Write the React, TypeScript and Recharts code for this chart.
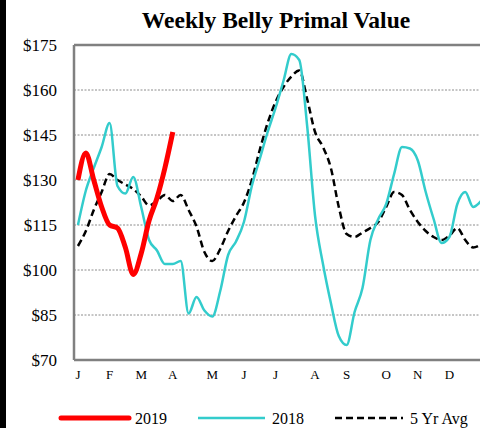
import type { ReactElement } from "react";
import {
  CartesianGrid,
  Line,
  LineChart,
  ReferenceLine,
  XAxis,
  YAxis,
} from "recharts";

const FONT = '"Liberation Serif", "Times New Roman", serif';

// week index (0-51) where each month label sits
const MONTH_WEEKS = [0, 4, 8, 12, 17, 21, 25, 30, 34, 39, 43, 47];
const MONTH_LABELS = ["J", "F", "M", "A", "M", "J", "J", "A", "S", "O", "N", "D"];
const Y_TICKS = [70, 85, 100, 115, 130, 145, 160, 175];

const VALUES_2019 = [130, 139, 130, 121, 115, 114, 107.5, 98.5, 105.5, 116.5, 124, 134, 146];

const VALUES_2018 = [
  115, 126.5, 134, 141, 149, 128, 125.5, 131, 121, 110, 106.5, 102, 102, 103,
  85.5, 91, 86.5, 84.5, 93, 105, 109.5, 116, 128, 137, 146, 154, 163, 172, 170,
  148, 118, 102, 89, 78, 75, 86, 94, 110, 117, 122, 132, 141, 140.5, 136.5, 126,
  117, 109, 111, 122, 126, 121, 123,
];

const VALUES_5YR = [
  108, 113, 120, 126, 132, 130, 128.5, 127, 124.5, 121.5, 123, 125, 123, 125,
  120, 114.5, 106, 103, 107, 113, 118, 122.5, 130, 140, 149, 156, 161, 164.5,
  166.5, 157, 146, 141, 134, 121, 112, 111, 112.5, 114, 116, 121, 126, 125, 120,
  116, 113, 111, 110, 111.5, 114, 110, 107.5, 108.5,
];

const data = VALUES_2018.map((v, i) => ({
  week: i,
  y2019: i < VALUES_2019.length ? VALUES_2019[i] : null,
  y2018: v,
  avg: VALUES_5YR[i],
}));

const RED = "#ff0000";
const TEAL = "#33cccc";
const AXIS = "#808080";

export default function App(): ReactElement {
  return (
    <div
      style={{
        position: "relative",
        width: 480,
        height: 428,
        overflow: "hidden",
        background: "#fff",
        fontFamily: FONT,
      }}
    >
      <style>{"body{margin:0}"}</style>
      <div
        style={{
          position: "absolute",
          left: 76,
          top: 9,
          width: 400,
          textAlign: "center",
          fontSize: 23.5,
          lineHeight: "23px",
          fontWeight: "bold",
          color: "#000",
        }}
      >
        Weekly Belly Primal Value
      </div>
      <div style={{ position: "absolute", left: 0, top: 0 }}>
        <LineChart
          width={490}
          height={390}
          data={data}
          margin={{ top: 45, right: 5, left: 0, bottom: 0 }}
        >
          <CartesianGrid vertical={false} stroke="#8c8c8c" strokeDasharray="2 1.5" />
          <ReferenceLine y={175} stroke={AXIS} strokeWidth={2.5} />
          <XAxis
            type="number"
            dataKey="week"
            domain={[-0.5, 51.5]}
            ticks={MONTH_WEEKS}
            interval={0}
            tickFormatter={(v: number) => MONTH_LABELS[MONTH_WEEKS.indexOf(v)] ?? ""}
            axisLine={{ stroke: AXIS, strokeWidth: 2.5 }}
            tickLine={false}
            tickSize={0}
            tickMargin={10}
            height={30}
            tick={{ fill: "#000", fontSize: 13, fontFamily: FONT }}
          />
          <YAxis
            domain={[70, 175]}
            ticks={Y_TICKS}
            interval={0}
            tickFormatter={(v: number) => `$${v}`}
            axisLine={{ stroke: AXIS, strokeWidth: 2.5 }}
            tickLine={false}
            tickSize={0}
            tickMargin={17}
            width={74}
            tick={{ fill: "#000", fontSize: 17, fontFamily: FONT }}
          />
          <Line
            type="monotone"
            dataKey="avg"
            stroke="#000"
            strokeWidth={2.5}
            strokeDasharray="7 4"
            dot={false}
            isAnimationActive={false}
          />
          <Line
            type="monotone"
            dataKey="y2018"
            stroke={TEAL}
            strokeWidth={2.5}
            dot={false}
            isAnimationActive={false}
          />
          <Line
            type="monotone"
            dataKey="y2019"
            stroke={RED}
            strokeWidth={5}
            dot={false}
            isAnimationActive={false}
          />
        </LineChart>
      </div>
      <svg
        width={480}
        height={30}
        style={{ position: "absolute", left: 0, top: 403 }}
      >
        <line x1={61} x2={129} y1={15} y2={15} stroke={RED} strokeWidth={5} strokeLinecap="round" />
        <text x={135} y={20.5} fontSize={16} fontFamily={FONT} fill="#000">2019</text>
        <line x1={198} x2={265} y1={15} y2={15} stroke={TEAL} strokeWidth={2.5} />
        <text x={272} y={20.5} fontSize={16} fontFamily={FONT} fill="#000">2018</text>
        <line x1={335} x2={403} y1={15} y2={15} stroke="#000" strokeWidth={2.5} strokeDasharray="7 4" />
        <text x={410} y={20.5} fontSize={16} fontFamily={FONT} fill="#000">5 Yr Avg</text>
      </svg>
      <div
        style={{
          position: "absolute",
          left: 0,
          top: 0,
          width: 6,
          height: 428,
          background: "#000",
        }}
      />
    </div>
  );
}
